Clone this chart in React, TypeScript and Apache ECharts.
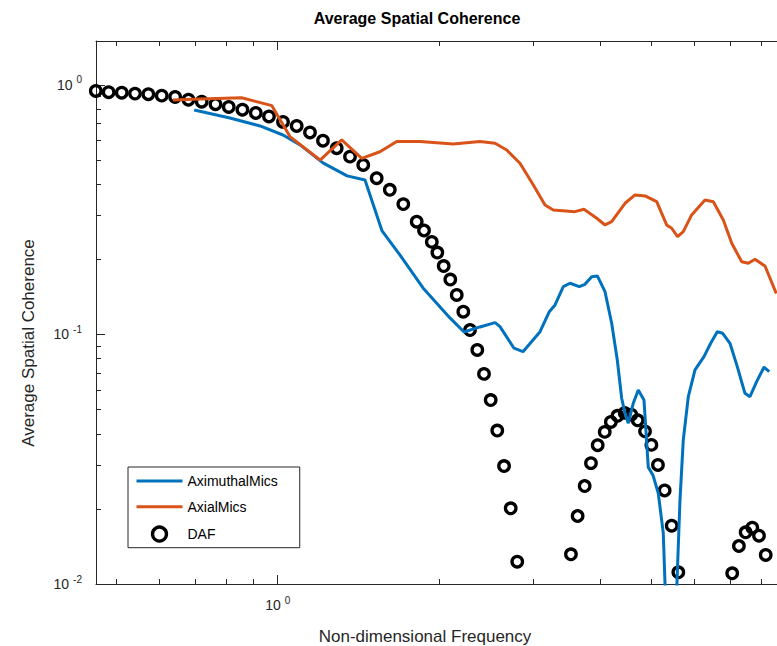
import React, { useEffect, useRef } from 'react';
import * as echarts from 'echarts';

// ---- data ----
const seriesNames = ['AximuthalMics', 'AxialMics', 'DAF'];

const azimuthalX = [0.698, 0.814, 0.927, 1.023, 1.101, 1.215, 1.348, 1.456, 1.567, 1.693, 1.869, 2.099, 2.230, 2.388, 2.549, 2.603, 2.765, 2.874, 3.093, 3.219, 3.299, 3.419, 3.519, 3.662, 3.753, 3.863, 3.958, 4.091, 4.210, 4.313, 4.395, 4.459, 4.522, 4.620, 4.721, 4.838, 4.928, 5.029, 5.145, 5.257, 5.34, 5.47, 5.570, 5.649, 5.730, 5.855, 6.026, 6.264, 6.447, 6.633, 6.789, 7.005, 7.229, 7.472, 7.634, 7.858, 8.109, 8.296];
const azimuthalY = [0.794, 0.737, 0.685, 0.630, 0.575, 0.487, 0.432, 0.416, 0.260, 0.208, 0.1536, 0.1165, 0.1023, 0.1072, 0.1115, 0.1075, 0.0881, 0.0853, 0.1026, 0.1234, 0.1313, 0.1554, 0.1604, 0.1554, 0.1589, 0.1705, 0.1716, 0.1484, 0.1109, 0.0790, 0.0555, 0.0483, 0.0441, 0.0530, 0.0599, 0.0546, 0.0294, 0.0273, 0.0231, 0.0160, 0.006, 0.005, 0.0095, 0.0217, 0.0378, 0.0563, 0.0721, 0.0815, 0.0922, 0.1026, 0.1011, 0.0922, 0.0743, 0.0581, 0.0563, 0.0647, 0.0739, 0.0710];

const axialX = [0.637, 0.716, 0.856, 0.975, 1.054, 1.200, 1.317, 1.436, 1.553, 1.669, 1.845, 2.129, 2.388, 2.549, 2.679, 2.837, 3.005, 3.160, 3.274, 3.595, 3.737, 3.948, 4.091, 4.210, 4.459, 4.655, 4.860, 5.110, 5.334, 5.451, 5.592, 5.730, 5.940, 6.291, 6.521, 6.807, 7.059, 7.369, 7.580, 7.801, 8.145, 8.55];
const axialY = [0.871, 0.879, 0.889, 0.826, 0.621, 0.500, 0.602, 0.508, 0.540, 0.593, 0.593, 0.580, 0.593, 0.584, 0.549, 0.4855, 0.3974, 0.3304, 0.3155, 0.3106, 0.3175, 0.2922, 0.2747, 0.2832, 0.3356, 0.3623, 0.3590, 0.3405, 0.2747, 0.2665, 0.2466, 0.2582, 0.3013, 0.3459, 0.3405, 0.2877, 0.2319, 0.1957, 0.1929, 0.2001, 0.1881, 0.146];

const dafX = [0.457, 0.483, 0.511, 0.541, 0.573, 0.607, 0.643, 0.681, 0.721, 0.765, 0.810, 0.859, 0.910, 0.963, 1.023, 1.085, 1.149, 1.215, 1.289, 1.365, 1.445, 1.531, 1.620, 1.717, 1.819, 1.877, 1.941, 1.988, 2.043, 2.102, 2.161, 2.223, 2.288, 2.361, 2.430, 2.501, 2.573, 2.649, 2.726, 2.804, 3.533, 3.636, 3.748, 3.851, 3.964, 4.086, 4.195, 4.317, 4.453, 4.581, 4.709, 4.860, 4.995, 5.138, 5.288, 5.451, 5.609, 7.073, 7.280, 7.494, 7.712, 7.937, 8.170];
const dafY = [0.946, 0.935, 0.931, 0.923, 0.918, 0.906, 0.895, 0.873, 0.857, 0.837, 0.816, 0.796, 0.772, 0.748, 0.711, 0.685, 0.645, 0.598, 0.558, 0.516, 0.478, 0.423, 0.380, 0.333, 0.283, 0.261, 0.235, 0.213, 0.188, 0.166, 0.144, 0.1234, 0.1042, 0.0867, 0.0695, 0.0546, 0.0412, 0.0297, 0.0201, 0.01229, 0.01315, 0.01873, 0.0247, 0.0305, 0.0360, 0.0407, 0.0446, 0.0472, 0.0485, 0.0477, 0.0453, 0.0409, 0.0361, 0.0300, 0.0237, 0.01713, 0.01114, 0.01104, 0.01420, 0.01611, 0.01681, 0.01562, 0.01307];

const xMajorTicks = [1];
const xMinorTicks = [0.5, 0.6, 0.7, 0.8, 0.9, 2, 3, 4, 5, 6, 7, 8];
const yMajorTicks = [0.01, 0.1, 1];
const yMinorTicks = [0.02, 0.03, 0.04, 0.05, 0.06, 0.07, 0.08, 0.09, 0.2, 0.3, 0.4, 0.5, 0.6, 0.7, 0.8, 0.9];

const X_MIN = 0.4574;
const X_MAX = 8.577;
const Y_MIN = 0.01;
const Y_MAX = 1.5;

const titleText = 'Average Spatial Coherence';
const xName = 'Non-dimensional Frequency';
const yName = 'Average Spatial Coherence';

const FONT = '"Liberation Sans", Arial, Helvetica, sans-serif';
const AX = '#262626';
const BLUE = '#0072BD';
const ORANGE = '#D95319';

const zip = (xs: number[], ys: number[]) => xs.map((x, i) => [x, ys[i]]);

const powLabel = (v: number) => {
  const e = Math.round(Math.log10(v));
  return `{b|10}{s|${e}}`;
};
const rich = {
  b: { fontSize: 14, color: AX, fontFamily: FONT },
  s: { fontSize: 10, color: AX, fontFamily: FONT, padding: [0, 0, 10, 4] },
};

export default function App() {
  const ref = useRef<HTMLDivElement>(null);
  useEffect(() => {
    document.body.style.margin = '0';
    document.body.style.overflow = 'hidden';
    const chart = echarts.init(ref.current!, null, { renderer: 'svg' });

    const baseX = { type: 'log', logBase: 10, min: X_MIN, max: X_MAX, splitLine: { show: false }, minorTick: { show: false } };
    const baseY = { type: 'log', logBase: 10, min: Y_MIN, max: Y_MAX, splitLine: { show: false }, minorTick: { show: false } };

    const option: any = {
      animation: false,
      backgroundColor: '#ffffff',
      grid: { left: 96, top: 41, width: 681, height: 543, containLabel: false },
      xAxis: [
        {
          ...baseX, position: 'bottom',
          axisLine: { show: true, onZero: false, lineStyle: { color: AX, width: 1 } },
          axisTick: { show: true, inside: true, length: 9, customValues: xMajorTicks, lineStyle: { color: AX } },
          axisLabel: { show: true, customValues: xMajorTicks, formatter: powLabel, rich, margin: 11 },
        },
        {
          ...baseX, position: 'bottom',
          axisLine: { show: false, onZero: false },
          axisTick: { show: true, inside: true, length: 5, customValues: xMinorTicks, lineStyle: { color: AX } },
          axisLabel: { show: false },
        },
        {
          ...baseX, position: 'top',
          axisLine: { show: true, onZero: false, lineStyle: { color: AX, width: 1 } },
          axisTick: { show: true, inside: true, length: 9, customValues: xMajorTicks, lineStyle: { color: AX } },
          axisLabel: { show: false },
        },
        {
          ...baseX, position: 'top',
          axisLine: { show: false, onZero: false },
          axisTick: { show: true, inside: true, length: 5, customValues: xMinorTicks, lineStyle: { color: AX } },
          axisLabel: { show: false },
        },
      ],
      yAxis: [
        {
          ...baseY, position: 'left',
          axisLine: { show: true, onZero: false, lineStyle: { color: AX, width: 1 } },
          axisTick: { show: true, inside: true, length: 9, customValues: yMajorTicks, lineStyle: { color: AX } },
          axisLabel: { show: true, customValues: yMajorTicks, formatter: powLabel, rich, margin: 14 },
        },
        {
          ...baseY, position: 'left',
          axisLine: { show: false, onZero: false },
          axisTick: { show: true, inside: true, length: 5, customValues: yMinorTicks, lineStyle: { color: AX } },
          axisLabel: { show: false },
        },
      ],
      legend: {
        orient: 'vertical',
        left: 128,
        top: 467,
        itemWidth: 46,
        itemHeight: 14,
        itemGap: 11.7,
        padding: [7, 22, 5, 7],
        borderColor: AX,
        borderWidth: 1,
        backgroundColor: '#ffffff',
        textStyle: { fontSize: 14, lineHeight: 14, color: '#000', fontFamily: FONT },
        data: [
          { name: seriesNames[0], lineStyle: { width: 3 }, itemStyle: { opacity: 0 } },
          { name: seriesNames[1], lineStyle: { width: 3 }, itemStyle: { opacity: 0 } },
          { name: seriesNames[2], itemStyle: { borderWidth: 3.3, color: 'rgba(0,0,0,0)', borderColor: '#000', opacity: 1 } },
        ],
      },
      graphic: [
        { type: 'text', x: 417, y: 18, style: { text: titleText, font: `bold 16px ${FONT}`, fill: '#000', textAlign: 'center', textVerticalAlign: 'middle' } },
        { type: 'text', x: 425, y: 636, style: { text: xName, font: `17px ${FONT}`, fill: AX, textAlign: 'center', textVerticalAlign: 'middle' } },
        { type: 'text', x: 28, y: 343, rotation: Math.PI / 2, style: { text: yName, font: `17px ${FONT}`, fill: AX, textAlign: 'center', textVerticalAlign: 'middle' } },
      ],
      series: [
        {
          name: seriesNames[0], type: 'line', xAxisIndex: 0, yAxisIndex: 0,
          data: zip(azimuthalX, azimuthalY), symbol: 'none', showSymbol: false,
          lineStyle: { color: BLUE, width: 3 }, itemStyle: { color: BLUE }, clip: true,
        },
        {
          name: seriesNames[1], type: 'line', xAxisIndex: 0, yAxisIndex: 0,
          data: zip(axialX, axialY), symbol: 'none', showSymbol: false,
          lineStyle: { color: ORANGE, width: 3 }, itemStyle: { color: ORANGE }, clip: true,
        },
        {
          name: seriesNames[2], type: 'scatter', xAxisIndex: 0, yAxisIndex: 0,
          data: zip(dafX, dafY), symbol: 'circle', symbolSize: 10.5,
          itemStyle: { color: 'rgba(0,0,0,0)', borderColor: '#000', borderWidth: 3.3, opacity: 1 },
          clip: false,
        },
      ],
    };
    chart.setOption(option);
    return () => chart.dispose();
  }, []);
  return <div ref={ref} style={{ width: 777, height: 646 }} />;
}
